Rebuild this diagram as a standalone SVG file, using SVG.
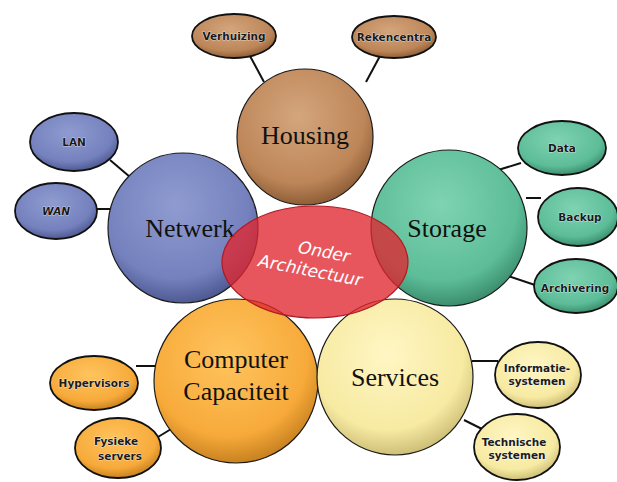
<svg xmlns="http://www.w3.org/2000/svg" width="617" height="482" viewBox="0 0 617 482">
<defs>
<radialGradient id="gBrown" cx="45%" cy="35%" r="65%"><stop offset="0" stop-color="#d4a57c"/><stop offset="0.75" stop-color="#bd8659"/><stop offset="1" stop-color="#8f5e37"/></radialGradient>
<radialGradient id="gBlue" cx="45%" cy="35%" r="65%"><stop offset="0" stop-color="#8f9bd0"/><stop offset="0.75" stop-color="#7481bd"/><stop offset="1" stop-color="#4f5a94"/></radialGradient>
<radialGradient id="gTeal" cx="45%" cy="35%" r="65%"><stop offset="0" stop-color="#7fd3b2"/><stop offset="0.75" stop-color="#5dbd98"/><stop offset="1" stop-color="#3b8e6e"/></radialGradient>
<radialGradient id="gOrange" cx="45%" cy="35%" r="65%"><stop offset="0" stop-color="#ffc45e"/><stop offset="0.75" stop-color="#f7aa3a"/><stop offset="1" stop-color="#c98220"/></radialGradient>
<radialGradient id="gYellow" cx="45%" cy="35%" r="65%"><stop offset="0" stop-color="#fff6c4"/><stop offset="0.75" stop-color="#f7eaa2"/><stop offset="1" stop-color="#cfc078"/></radialGradient>
</defs>
<style>
.big{stroke:#1a1a1a;stroke-width:1.2}
.small{stroke:#111;stroke-width:1.8}
.conn line{stroke:#111;stroke-width:2}
.bl{font-family:"Liberation Serif",serif;font-size:26px;fill:#111;text-anchor:middle}
.sl{font-family:"DejaVu Sans",sans-serif;font-size:10.5px;font-weight:bold;fill:#1a1a1a;text-anchor:middle;stroke:#fff;stroke-width:0.6;paint-order:stroke}
.ol{font-family:"DejaVu Sans",sans-serif;font-size:17px;fill:#fff;text-anchor:middle;font-style:italic}
</style>
<rect width="617" height="482" fill="#fff"/>
<g id="connectors" class="conn">
<line x1="250" y1="56" x2="264" y2="82"/>
<line x1="380" y1="56" x2="366" y2="82"/>
<line x1="110" y1="160" x2="130" y2="177"/>
<line x1="96" y1="209" x2="113" y2="209"/>
<line x1="521" y1="163" x2="498" y2="170"/>
<line x1="526" y1="198" x2="541" y2="198"/>
<line x1="508" y1="276" x2="535" y2="285"/>
<line x1="136" y1="366" x2="156" y2="366"/>
<line x1="158" y1="437" x2="176" y2="426"/>
<line x1="472" y1="361" x2="498" y2="361"/>
<line x1="464" y1="420" x2="484" y2="430"/>
</g>
<g id="verhuizing"><ellipse class="small" cx="234" cy="36" rx="42" ry="22" fill="url(#gBrown)"/><text class="sl" x="234" y="40">Verhuizing</text></g>
<g id="rekencentra"><ellipse class="small" cx="394" cy="37" rx="42" ry="21" fill="url(#gBrown)"/><text class="sl" x="394" y="41">Rekencentra</text></g>
<g id="lan"><ellipse class="small" cx="74" cy="142" rx="44" ry="29" fill="url(#gBlue)"/><text class="sl" x="74" y="146">LAN</text></g>
<g id="wan"><ellipse class="small" cx="56" cy="211" rx="41" ry="28" fill="url(#gBlue)"/><text class="sl" x="56" y="215" font-style="italic">WAN</text></g>
<g id="data"><ellipse class="small" cx="562" cy="148" rx="44" ry="27" fill="url(#gTeal)"/><text class="sl" x="562" y="152">Data</text></g>
<g id="backup"><ellipse class="small" cx="578" cy="217" rx="40" ry="29" fill="url(#gTeal)"/><text class="sl" x="580" y="221">Backup</text></g>
<g id="archivering"><ellipse class="small" cx="576" cy="286" rx="42" ry="27" fill="url(#gTeal)"/><text class="sl" x="575" y="292">Archivering</text></g>
<g id="hypervisors"><ellipse class="small" cx="94" cy="383" rx="44" ry="27" fill="url(#gOrange)"/><text class="sl" x="94" y="387">Hypervisors</text></g>
<g id="fysieke"><ellipse class="small" cx="118" cy="448" rx="43" ry="30" fill="url(#gOrange)"/><text class="sl" x="116" y="445">Fysieke</text><text class="sl" x="120" y="460">servers</text></g>
<g id="informatie"><ellipse class="small" cx="538" cy="375" rx="43" ry="33" fill="url(#gYellow)"/><text class="sl" x="537" y="372">Informatie-</text><text class="sl" x="537" y="385">systemen</text></g>
<g id="technische"><ellipse class="small" cx="517" cy="447" rx="43" ry="33" fill="url(#gYellow)"/><text class="sl" x="514" y="446">Technische</text><text class="sl" x="517" y="459">systemen</text></g>
<g id="housing"><circle class="big" cx="305" cy="137" r="68" fill="url(#gBrown)"/><text class="bl" x="305" y="144">Housing</text></g>
<g id="netwerk"><circle class="big" cx="183" cy="228" r="75" fill="url(#gBlue)"/><text class="bl" x="190" y="237">Netwerk</text></g>
<g id="storage"><circle class="big" cx="449" cy="228" r="78" fill="url(#gTeal)"/><text class="bl" x="447" y="237">Storage</text></g>
<g id="computer"><circle class="big" cx="236" cy="381" r="82" fill="url(#gOrange)"/><text class="bl" x="236" y="368">Computer</text><text class="bl" x="236" y="400">Capaciteit</text></g>
<g id="services"><circle class="big" cx="395" cy="377" r="78" fill="url(#gYellow)"/><text class="bl" x="395" y="386">Services</text></g>
<g id="onder"><ellipse cx="315" cy="262" rx="93" ry="56" fill="#e0262f" fill-opacity="0.78" stroke="#b01a22" stroke-width="1.2"/><g transform="rotate(11 315 262)"><text class="ol" x="322" y="256">Onder</text><text class="ol" x="312" y="277">Architectuur</text></g></g>
</svg>
